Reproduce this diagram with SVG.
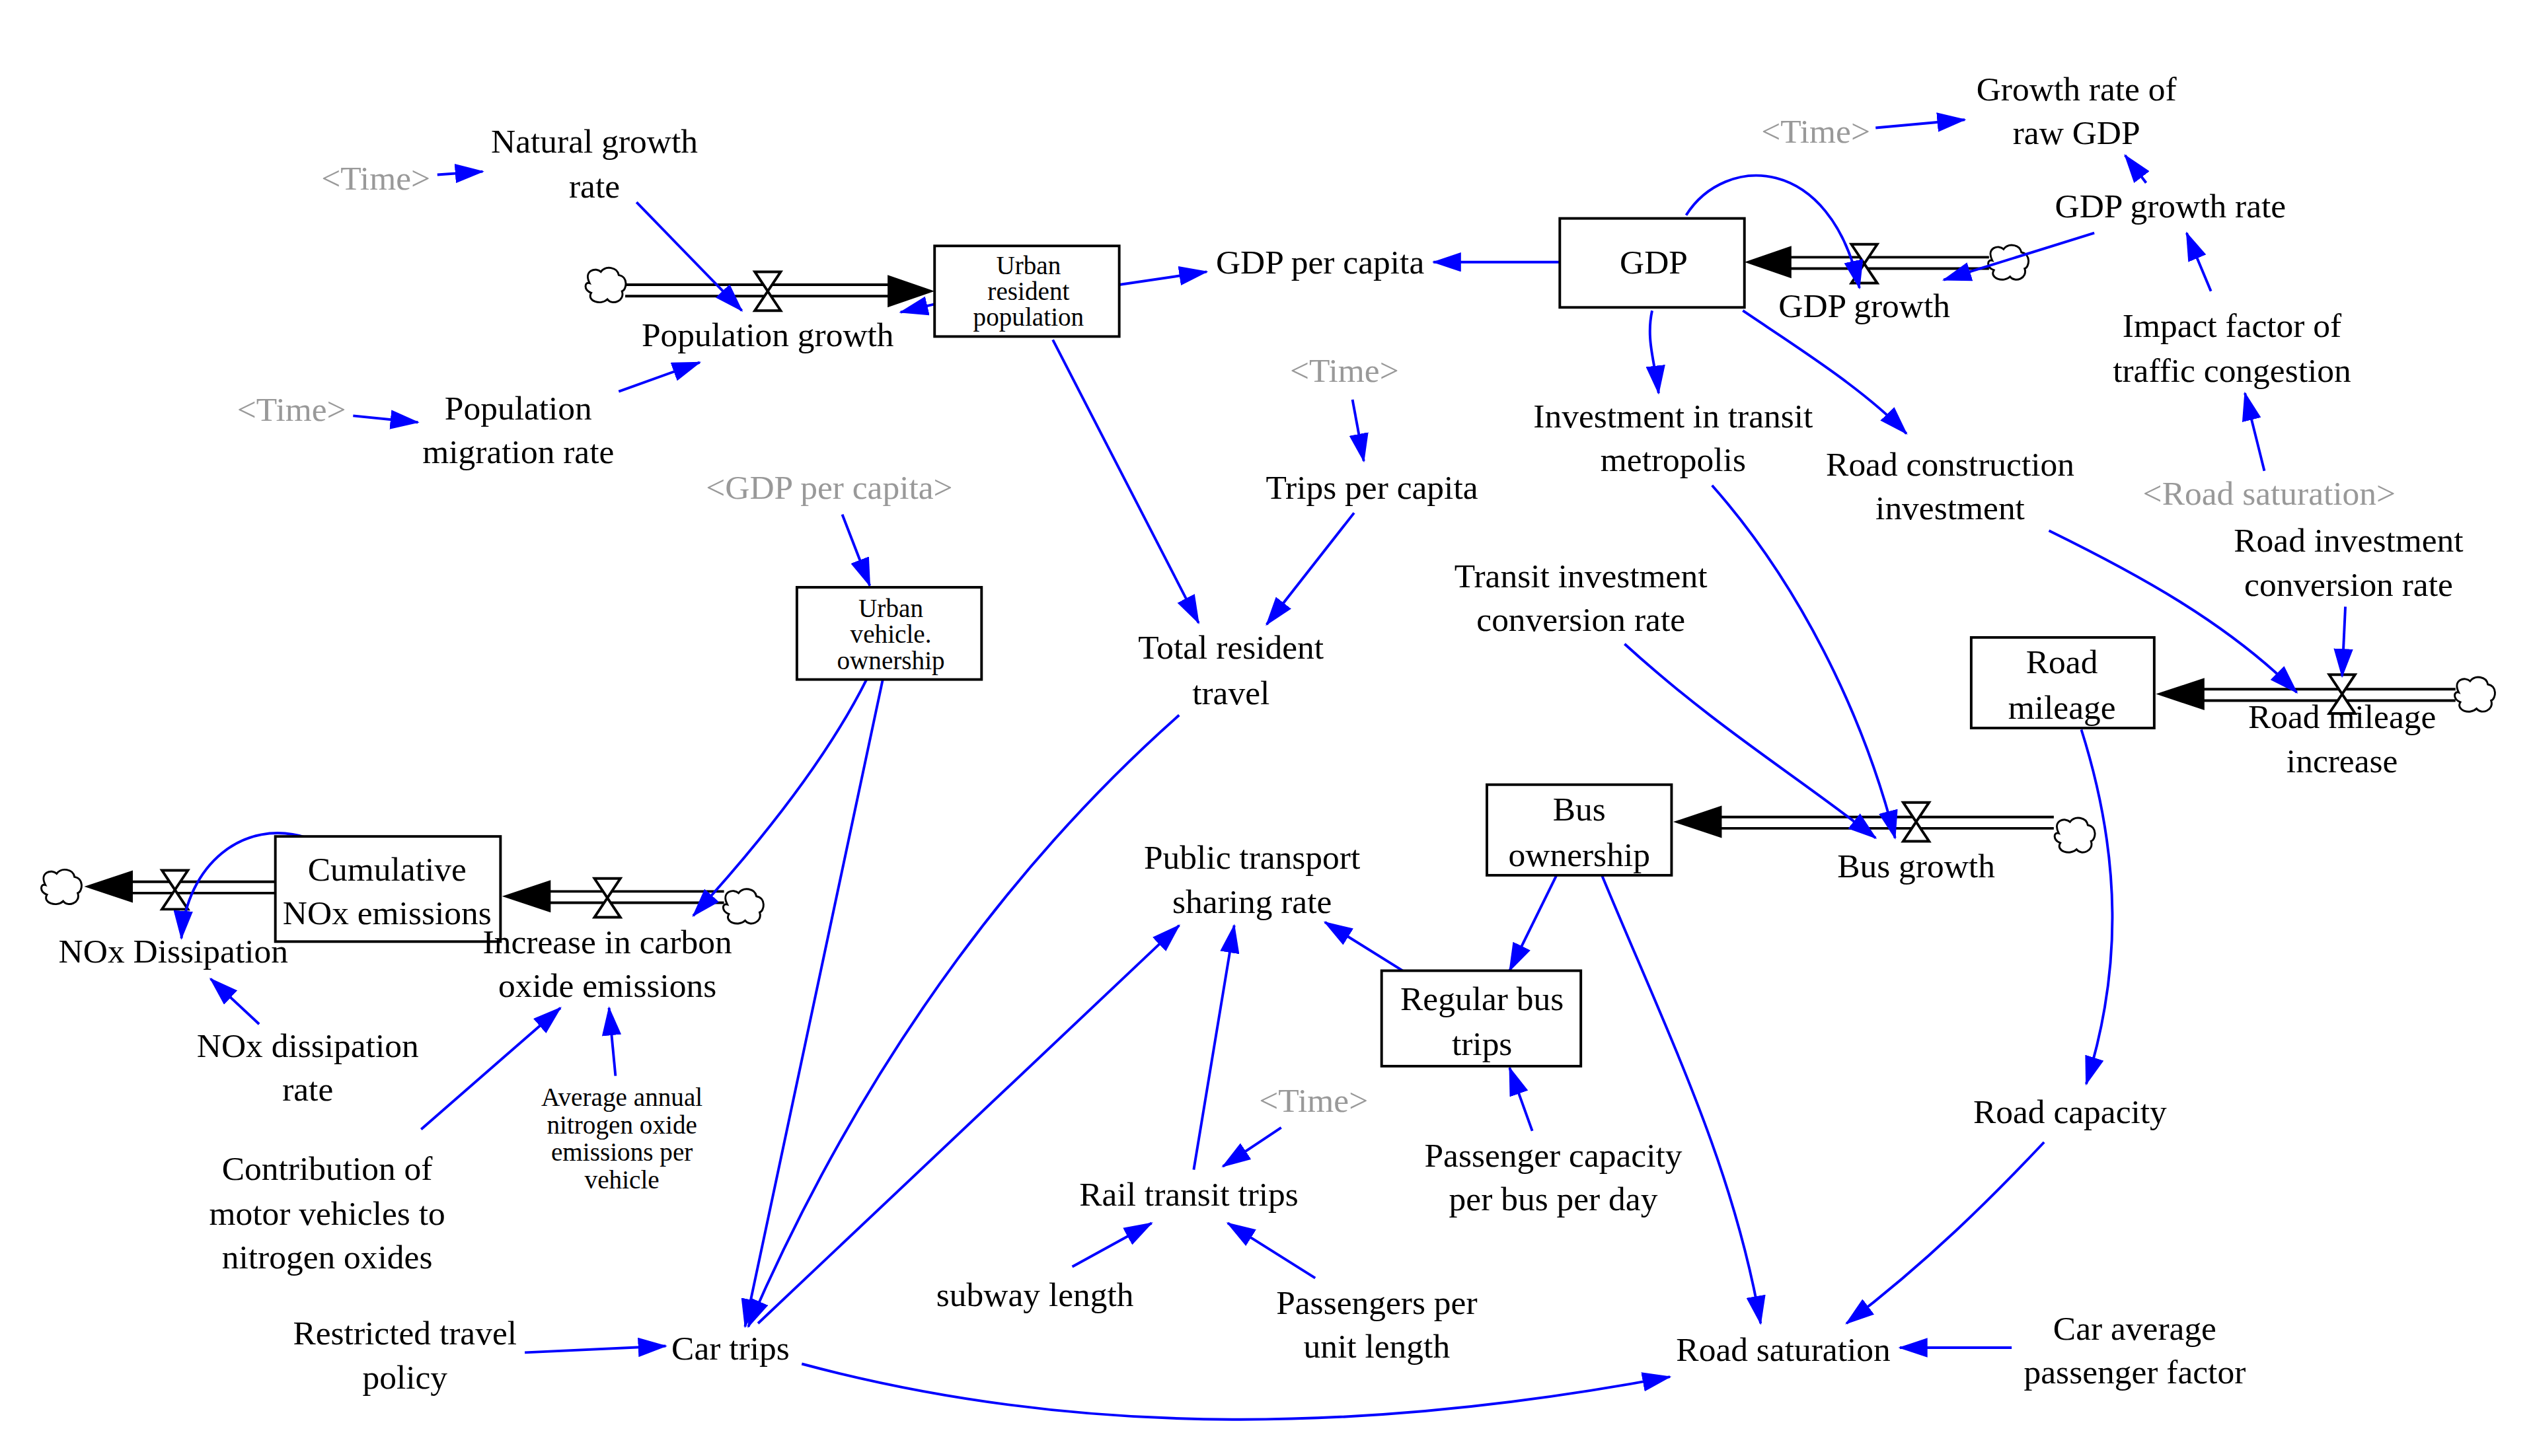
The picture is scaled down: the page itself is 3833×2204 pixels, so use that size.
<svg xmlns="http://www.w3.org/2000/svg" width="3833" height="2204" viewBox="0 0 3833 2204">
<style>
text{font-family:"Liberation Serif","Times New Roman",serif;font-size:21px;fill:#000;text-anchor:middle;dominant-baseline:central}
text.g{fill:#999}
text.c{font-size:16px}
.box{fill:#fff;stroke:#000;stroke-width:1.6}
.pipe{stroke:#000;stroke-width:1.6;fill:none}
.lnk{stroke:#0000ff;stroke-width:1.6;fill:none;marker-end:url(#ah)}
.valve{fill:#fff;stroke:#000;stroke-width:1.6}
.cloud{fill:#fff;stroke:#000;stroke-width:1.2}
.fh{fill:#000}
</style>
<defs>
<marker id="ah" markerUnits="userSpaceOnUse" markerWidth="18" markerHeight="12" refX="17" refY="6" orient="auto"><path d="M0,0 L18,6 L0,12 Z" fill="#0000ff"/></marker>
<path id="cl" d="M-10,-2 C-14,-10 -6,-12 -3,-9 C0,-13 7,-12 8,-7 C14,-6 13,2 10,3 C12,9 4,12 1,8 C-3,12 -12,9 -9,4 C-14,2 -13,-3 -10,-2 Z"/>
<path id="vl" d="M-8,-12 L8,-12 L-8,12 L8,12 Z"/>
</defs>
<rect width="3833" height="2204" fill="#fff"/>
<g transform="scale(2.451 2.449)">
<g id="flows">
<use href="#cl" x="374" y="177" class="cloud"/>
<path class="pipe" d="M386,176 H553 M386,183 H553"/>
<path class="fh" d="M548,170 L577,180 L548,190 Z"/>
<use href="#vl" x="474" y="180" class="valve"/>
<use href="#cl" x="1240" y="163" class="cloud"/>
<path class="pipe" d="M1228,159 H1100 M1228,166 H1100"/>
<path class="fh" d="M1106,152 L1077,162 L1106,172 Z"/>
<use href="#vl" x="1151" y="163" class="valve"/>
<use href="#cl" x="1528" y="430" class="cloud"/>
<path class="pipe" d="M1516,426 H1356 M1516,433 H1356"/>
<path class="fh" d="M1361,419 L1331,429 L1361,439 Z"/>
<use href="#vl" x="1446" y="429" class="valve"/>
<use href="#cl" x="1281" y="517" class="cloud"/>
<path class="pipe" d="M1268,505 H1058 M1268,512 H1058"/>
<path class="fh" d="M1063,498 L1033,508 L1063,518 Z"/>
<use href="#vl" x="1183" y="508" class="valve"/>
<use href="#cl" x="459" y="561" class="cloud"/>
<path class="pipe" d="M447,551 H335 M447,558 H335"/>
<path class="fh" d="M340,544 L310,554 L340,564 Z"/>
<use href="#vl" x="375" y="555" class="valve"/>
<use href="#cl" x="38" y="549" class="cloud"/>
<path class="pipe" d="M170,545 H78 M170,552 H78"/>
<path class="fh" d="M82,538 L52,548 L82,558 Z"/>
<use href="#vl" x="108" y="550" class="valve"/>
</g>
<g id="links">
<path class="lnk" d="M270,108 L298,106"/>
<path class="lnk" d="M393,125 L458,192"/>
<path class="lnk" d="M218,257 L258,261"/>
<path class="lnk" d="M382,242 L432,224"/>
<path class="lnk" d="M577,188 L556,193"/>
<path class="lnk" d="M691,176 L745,168"/>
<path class="lnk" d="M963,162 L885,162"/>
<path class="lnk" d="M1041,133 C1065,95 1130,95 1148,178"/>
<path class="lnk" d="M1158,79 L1213,74"/>
<path class="lnk" d="M1325,113 L1312,96"/>
<path class="lnk" d="M1293,144 L1200,173"/>
<path class="lnk" d="M1365,180 L1350,144"/>
<path class="lnk" d="M1398,291 L1386,243"/>
<path class="lnk" d="M1448,375 L1446,418"/>
<path class="lnk" d="M1076,192 C1110,215 1150,240 1177,268"/>
<path class="lnk" d="M1265,328 C1320,355 1375,385 1418,428"/>
<path class="lnk" d="M1020,192 C1016,210 1022,225 1024,243"/>
<path class="lnk" d="M1057,300 C1110,360 1150,440 1170,518"/>
<path class="lnk" d="M835,247 L842,285"/>
<path class="lnk" d="M836,317 L782,386"/>
<path class="lnk" d="M650,210 L740,385"/>
<path class="lnk" d="M1003,398 C1060,450 1110,480 1158,518"/>
<path class="lnk" d="M520,318 L537,362"/>
<path class="lnk" d="M190,518 C150,505 115,535 112,580"/>
<path class="lnk" d="M160,633 L130,605"/>
<path class="lnk" d="M535,420 C510,470 470,520 428,566"/>
<path class="lnk" d="M545,420 L460,820"/>
<path class="lnk" d="M260,698 L346,623"/>
<path class="lnk" d="M380,665 L376,623"/>
<path class="lnk" d="M961,541 L932,600"/>
<path class="lnk" d="M866,600 L818,570"/>
<path class="lnk" d="M946,699 L932,660"/>
<path class="lnk" d="M989,541 C1030,640 1070,720 1087,818"/>
<path class="lnk" d="M1242,833 L1173,833"/>
<path class="lnk" d="M1285,451 C1310,530 1310,600 1288,670"/>
<path class="lnk" d="M1262,706 C1230,740 1190,780 1140,818"/>
<path class="lnk" d="M324,836 L411,832"/>
<path class="lnk" d="M468,818 L728,572"/>
<path class="lnk" d="M728,442 C640,520 540,640 462,820"/>
<path class="lnk" d="M495,843 C670,890 850,885 1031,851"/>
<path class="lnk" d="M791,697 L755,721"/>
<path class="lnk" d="M737,723 L762,572"/>
<path class="lnk" d="M662,783 L711,756"/>
<path class="lnk" d="M812,790 L758,756"/>
</g>
<g id="stock-urban-pop"><rect class="box" x="577" y="152" width="114" height="56"/><text class="c" x="635" y="164">Urban</text><text class="c" x="635" y="180">resident</text><text class="c" x="635" y="196">population</text></g>
<g id="stock-gdp"><rect class="box" x="963" y="135" width="114" height="55"/><text x="1021" y="162">GDP</text></g>
<g id="stock-road"><rect class="box" x="1217" y="394" width="113" height="56"/><text x="1273" y="409">Road</text><text x="1273" y="437">mileage</text></g>
<g id="stock-bus"><rect class="box" x="918" y="485" width="114" height="56"/><text x="975" y="500">Bus</text><text x="975" y="528">ownership</text></g>
<g id="stock-vehicle"><rect class="box" x="492" y="363" width="114" height="57"/><text class="c" x="550" y="376">Urban</text><text class="c" x="550" y="392">vehicle.</text><text class="c" x="550" y="408">ownership</text></g>
<g id="stock-nox"><rect class="box" x="170" y="517" width="139" height="65"/><text x="239" y="537">Cumulative</text><text x="239" y="564">NOx emissions</text></g>
<g id="stock-regbus"><rect class="box" x="853" y="600" width="123" height="59"/><text x="915" y="617">Regular bus</text><text x="915" y="645">trips</text></g>
<g id="t1"><text class="g" x="232" y="110">&lt;Time&gt;</text></g>
<g id="natural"><text x="367" y="87">Natural growth</text><text x="367" y="115">rate</text></g>
<g id="popgrowth"><text x="474" y="207">Population growth</text></g>
<g id="t2"><text class="g" x="180" y="253">&lt;Time&gt;</text></g>
<g id="migration"><text x="320" y="252">Population</text><text x="320" y="279">migration rate</text></g>
<g id="gdppc"><text x="815" y="162">GDP per capita</text></g>
<g id="gdpgrowth"><text x="1151" y="189">GDP growth</text></g>
<g id="t3"><text class="g" x="1121" y="81">&lt;Time&gt;</text></g>
<g id="rawgdp"><text x="1282" y="55">Growth rate of</text><text x="1282" y="82">raw GDP</text></g>
<g id="gdprate"><text x="1340" y="127">GDP growth rate</text></g>
<g id="impact"><text x="1378" y="201">Impact factor of</text><text x="1378" y="229">traffic congestion</text></g>
<g id="rs-shadow"><text class="g" x="1401" y="305">&lt;Road saturation&gt;</text></g>
<g id="ricr"><text x="1450" y="334">Road investment</text><text x="1450" y="361">conversion rate</text></g>
<g id="rmi"><text x="1446" y="443">Road mileage</text><text x="1446" y="470">increase</text></g>
<g id="rci"><text x="1204" y="287">Road construction</text><text x="1204" y="314">investment</text></g>
<g id="itm"><text x="1033" y="257">Investment in transit</text><text x="1033" y="284">metropolis</text></g>
<g id="t4"><text class="g" x="830" y="229">&lt;Time&gt;</text></g>
<g id="tpc"><text x="847" y="301">Trips per capita</text></g>
<g id="trt"><text x="760" y="400">Total resident</text><text x="760" y="428">travel</text></g>
<g id="ticr"><text x="976" y="356">Transit investment</text><text x="976" y="383">conversion rate</text></g>
<g id="busgrowth"><text x="1183" y="535">Bus growth</text></g>
<g id="gdppc-shadow"><text class="g" x="512" y="301">&lt;GDP per capita&gt;</text></g>
<g id="inc"><text x="375" y="582">Increase in carbon</text><text x="375" y="609">oxide emissions</text></g>
<g id="noxd"><text x="107" y="588">NOx Dissipation</text></g>
<g id="noxdr"><text x="190" y="646">NOx dissipation</text><text x="190" y="673">rate</text></g>
<g id="contrib"><text x="202" y="722">Contribution of</text><text x="202" y="750">motor vehicles to</text><text x="202" y="777">nitrogen oxides</text></g>
<g id="avg"><text class="c" x="384" y="678">Average annual</text><text class="c" x="384" y="695">nitrogen oxide</text><text class="c" x="384" y="712">emissions per</text><text class="c" x="384" y="729">vehicle</text></g>
<g id="ptsr"><text x="773" y="530">Public transport</text><text x="773" y="557">sharing rate</text></g>
<g id="pcbd"><text x="959" y="714">Passenger capacity</text><text x="959" y="741">per bus per day</text></g>
<g id="roadsat"><text x="1101" y="834">Road saturation</text></g>
<g id="capf"><text x="1318" y="821">Car average</text><text x="1318" y="848">passenger factor</text></g>
<g id="roadcap"><text x="1278" y="687">Road capacity</text></g>
<g id="cartrips"><text x="451" y="833">Car trips</text></g>
<g id="rtp"><text x="250" y="824">Restricted travel</text><text x="250" y="851">policy</text></g>
<g id="t5"><text class="g" x="811" y="680">&lt;Time&gt;</text></g>
<g id="rail"><text x="734" y="738">Rail transit trips</text></g>
<g id="subway"><text x="639" y="800">subway length</text></g>
<g id="ppul"><text x="850" y="805">Passengers per</text><text x="850" y="832">unit length</text></g>
</g>
</svg>
